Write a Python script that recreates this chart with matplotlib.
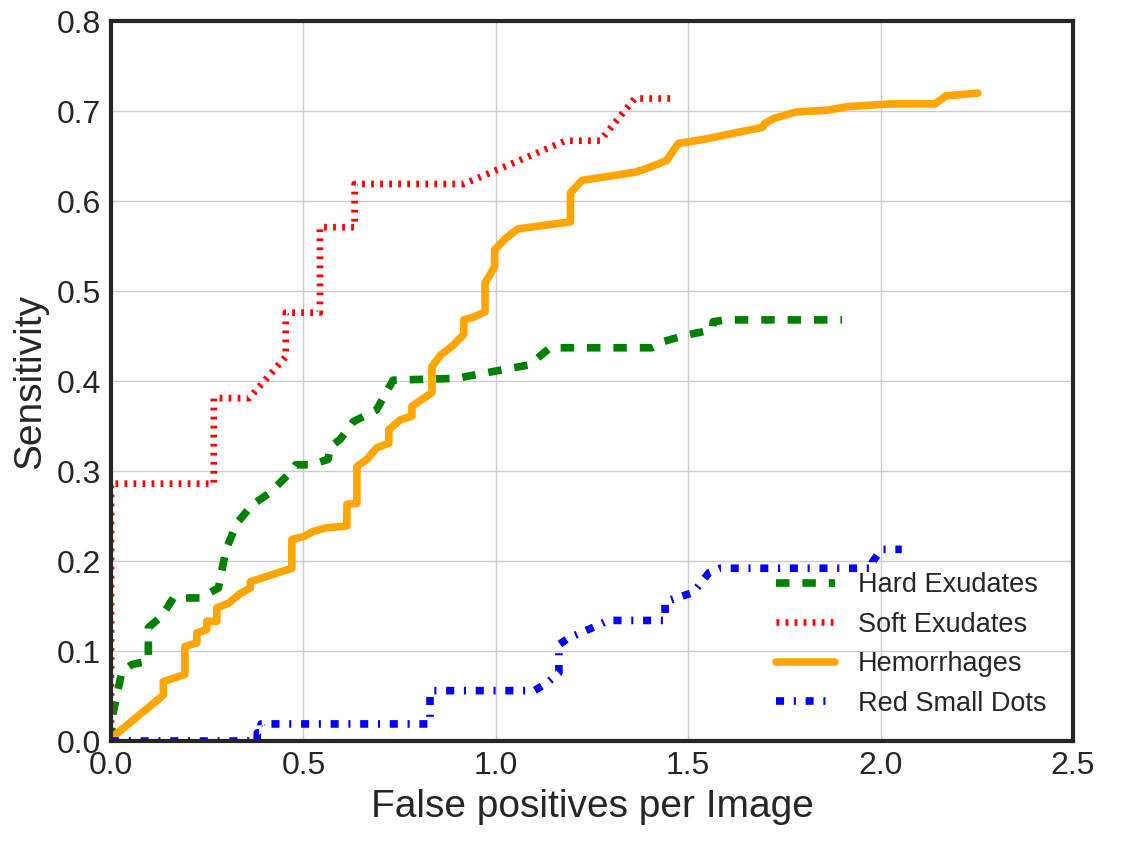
import matplotlib
matplotlib.use('Agg')
import matplotlib.pyplot as plt

plt.rcParams["font.family"] = "sans-serif"
plt.rcParams["font.sans-serif"] = ["Liberation Sans", "DejaVu Sans"]
plt.rcParams["lines.scale_dashes"] = False

# Hard Exudates
hard_fp = [0.0, 0.005, 0.028, 0.054, 0.097, 0.097, 0.132, 0.162, 0.231, 0.279, 0.299, 0.327,
           0.366, 0.413, 0.465, 0.480, 0.521, 0.564, 0.570, 0.595, 0.630, 0.690, 0.733, 0.897,
           1.087, 1.141, 1.406, 1.436, 1.494, 1.563, 1.565, 1.600, 1.900]
hard_sens = [0.0, 0.030, 0.077, 0.085, 0.089, 0.126, 0.139, 0.159, 0.159, 0.170, 0.213, 0.242,
             0.262, 0.276, 0.298, 0.307, 0.307, 0.313, 0.327, 0.335, 0.355, 0.368, 0.401, 0.403,
             0.418, 0.437, 0.437, 0.444, 0.451, 0.457, 0.466, 0.468, 0.468]

# Soft Exudates
soft_fp = [0.0, 0.0, 0.267, 0.267, 0.359, 0.454, 0.454, 0.543, 0.543, 0.633, 0.633, 0.917,
           1.181, 1.271, 1.361, 1.456]
soft_sens = [0.0, 0.286, 0.286, 0.381, 0.381, 0.427, 0.476, 0.476, 0.571, 0.571, 0.619, 0.619,
             0.667, 0.667, 0.714, 0.714]

# Hemorrhages
hem_fp = [0.0, 0.136, 0.136, 0.192, 0.192, 0.223, 0.223, 0.249, 0.249, 0.275, 0.275, 0.305,
          0.336, 0.362, 0.362, 0.405, 0.470, 0.470, 0.500, 0.526, 0.561, 0.613, 0.613, 0.639,
          0.639, 0.665, 0.691, 0.722, 0.722, 0.752, 0.782, 0.782, 0.834, 0.834, 0.857, 0.887,
          0.917, 0.917, 0.942, 0.972, 0.972, 0.997, 0.997, 1.027, 1.057, 1.194, 1.194, 1.224,
          1.361, 1.391, 1.444, 1.474, 1.533, 1.568, 1.694, 1.698, 1.724, 1.780, 1.863, 1.915,
          2.028, 2.141, 2.171, 2.253]
hem_sens = [0.003, 0.051, 0.066, 0.074, 0.105, 0.109, 0.120, 0.124, 0.133, 0.133, 0.148, 0.153,
            0.164, 0.170, 0.177, 0.183, 0.192, 0.224, 0.227, 0.233, 0.237, 0.239, 0.263, 0.264,
            0.305, 0.313, 0.326, 0.331, 0.346, 0.357, 0.361, 0.372, 0.387, 0.416, 0.429, 0.439,
            0.452, 0.468, 0.471, 0.477, 0.509, 0.527, 0.546, 0.559, 0.569, 0.577, 0.609, 0.623,
            0.632, 0.636, 0.645, 0.664, 0.668, 0.671, 0.682, 0.686, 0.692, 0.699, 0.701, 0.705,
            0.708, 0.708, 0.717, 0.720]

# Red Small Dots
rsd_fp = [0.0, 0.380, 0.380, 0.390, 0.390, 0.829, 0.829, 0.832, 1.100, 1.132, 1.164, 1.164,
          1.187, 1.257, 1.292, 1.440, 1.440, 1.513, 1.554, 1.583, 1.979, 1.979, 2.002, 2.055]
rsd_sens = [0.0, 0.0, 0.009, 0.009, 0.019, 0.019, 0.053, 0.056, 0.056, 0.064, 0.076, 0.107,
            0.114, 0.127, 0.134, 0.134, 0.155, 0.165, 0.187, 0.192, 0.192, 0.199, 0.213, 0.213]

fig = plt.figure(figsize=(11.33, 8.44), dpi=100)
ax = fig.add_axes([0.098, 0.122, 0.849, 0.853])

ax.plot(hard_fp, hard_sens, color='green', linewidth=5.5, dashes=(9.7, 9.3),
        dash_capstyle='butt', label='Hard Exudates')
ax.plot(soft_fp, soft_sens, color='red', linewidth=4.8, dashes=(2, 4.5),
        dash_capstyle='butt', label='Soft Exudates')
ax.plot(hem_fp, hem_sens, '-', color='orange', linewidth=5.5,
        solid_capstyle='round', label='Hemorrhages')
ax.plot(rsd_fp, rsd_sens, color='blue', linewidth=5.5, dashes=(5.8, 7, 1.5, 7),
        dash_capstyle='butt', label='Red Small Dots')

ax.set_xlim(0, 2.5)
ax.set_ylim(0, 0.8)
ax.set_xticks([0.0, 0.5, 1.0, 1.5, 2.0, 2.5])
ax.set_yticks([0.0, 0.1, 0.2, 0.3, 0.4, 0.5, 0.6, 0.7, 0.8])
ax.grid(True, color='#cccccc', linewidth=1)
ax.set_axisbelow(True)
for s in ax.spines.values():
    s.set_color('#262626')
    s.set_linewidth(3)
ax.tick_params(length=0, labelsize=23, colors='#262626', pad=7)
ax.set_xlabel("False positives per Image", fontsize=28, color='#262626', labelpad=6)
ax.set_ylabel("Sensitivity", fontsize=28, color='#262626', labelpad=6)

ax.legend(loc='lower right', bbox_to_anchor=(0.998, 0.0), frameon=False, fontsize=19.5,
          handlelength=2.2, handletextpad=0.85, labelspacing=0.5, labelcolor='#262626')

fig.savefig("out.png", dpi=100)
